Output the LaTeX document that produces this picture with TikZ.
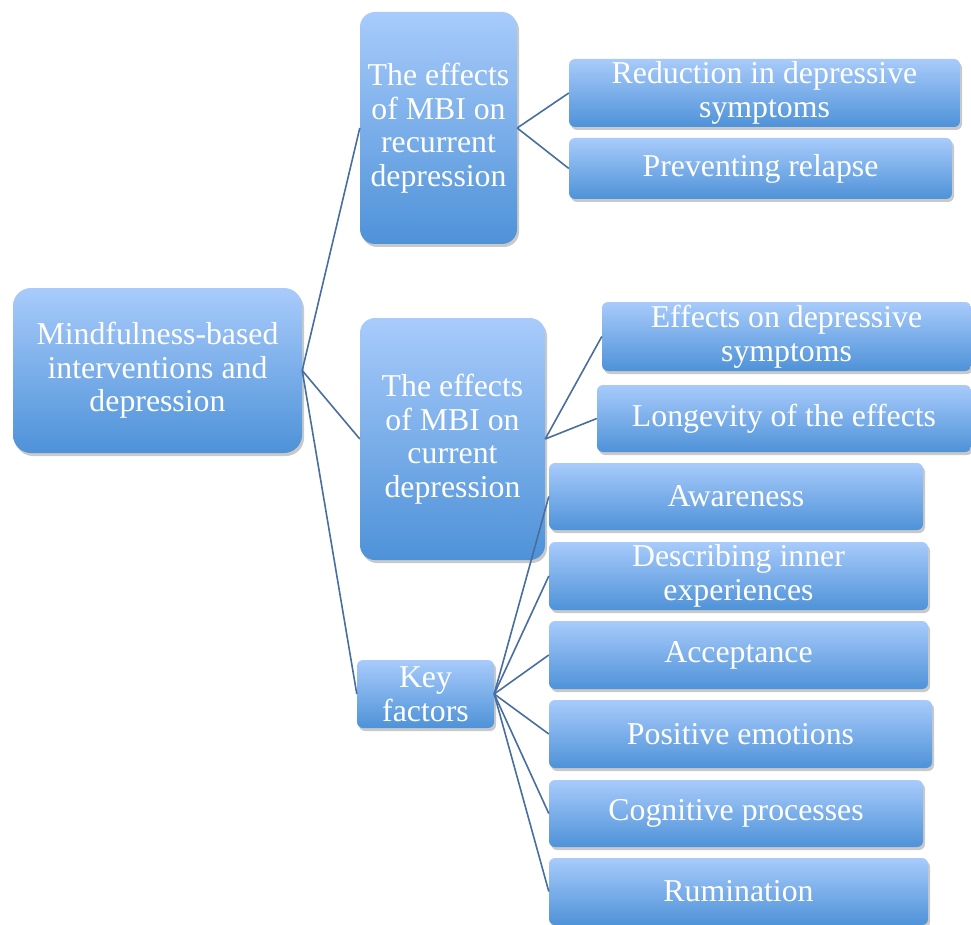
\documentclass[tikz,border=0pt]{standalone}
\usepackage{fontspec}
\setmainfont{Liberation Serif}
\usetikzlibrary{shadows}
\definecolor{boxtop}{RGB}{168,203,251}
\definecolor{boxbot}{RGB}{78,146,216}
\definecolor{linkblue}{RGB}{72,110,160}
\tikzset{
    box/.style={
        draw=none,
        rounded corners=#1,
        top color=boxtop,
        bottom color=boxbot,
        text=white,
        align=center,
        inner sep=0pt,
        font=\fontsize{31.8}{33.6}\selectfont,
        drop shadow={
            shadow xshift=2pt,
            shadow yshift=-3pt,
            opacity=0.3,
            fill=black!70
        }
    },
    box/.default=6pt,
    link/.style={
        linkblue,
        line width=1.6pt
    }
}

\begin{document}
\begin{tikzpicture}[x=1pt, y=-1pt]
    \useasboundingbox (0,0) rectangle (971,925);

    \node [box=18pt, minimum width=289pt, minimum height=165pt] (root) at (157.5, 370.5)
        {Mindfulness-based\\interventions and\\depression};

    \node [box=15pt, minimum width=157pt, minimum height=232pt] (recurrent) at (438.5, 128)
        {The effects\\of MBI on\\recurrent\\depression};
    \node [box=15pt, minimum width=185pt, minimum height=242pt] (current) at (452.5, 439)
        {The effects\\of MBI on\\current\\depression};
    \node [box, minimum width=137pt, minimum height=68pt] (key) at (425.5, 694)
        {Key\\factors};

    \node [box, minimum width=391pt, minimum height=68pt] (reduction) at (764.5, 93)
        {Reduction in depressive\\symptoms};
    \node [box, minimum width=383pt, minimum height=61pt] (relapse) at (760.5, 168.5)
        {Preventing relapse};

    \node [box, minimum width=369pt, minimum height=69pt] (symptoms) at (786.5, 336.5)
        {Effects on depressive\\symptoms};
    \node [box, minimum width=374pt, minimum height=67pt] (longevity) at (784, 418.5)
        {Longevity of the effects};

    \node [box, minimum width=374pt, minimum height=67pt] (awareness) at (736, 496.5)
        {Awareness};
    \node [box, minimum width=379pt, minimum height=68pt] (describing) at (738.5, 576)
        {Describing inner\\experiences};
    \node [box, minimum width=379pt, minimum height=68pt] (acceptance) at (738.5, 655)
        {Acceptance};
    \node [box, minimum width=383pt, minimum height=68pt] (positive) at (740.5, 734)
        {Positive emotions};
    \node [box, minimum width=374pt, minimum height=67pt] (cognitive) at (736, 813.5)
        {Cognitive processes};
    \node [box, minimum width=379pt, minimum height=67pt] (rumination) at (738.5, 891.5)
        {Rumination};

    \foreach \child in {recurrent, current, key} {
        \draw [link] (root.east) -- (\child.west);
    }
    \draw [link] (recurrent.east) -- (reduction.west);
    \draw [link] (recurrent.east) -- (relapse.west);
    \draw [link] (current.east) -- (symptoms.west);
    \draw [link] (current.east) -- (longevity.west);
    \foreach \child in {awareness, describing, acceptance, positive, cognitive, rumination} {
        \draw [link] (key.east) -- (\child.west);
    }
\end{tikzpicture}
\end{document}
